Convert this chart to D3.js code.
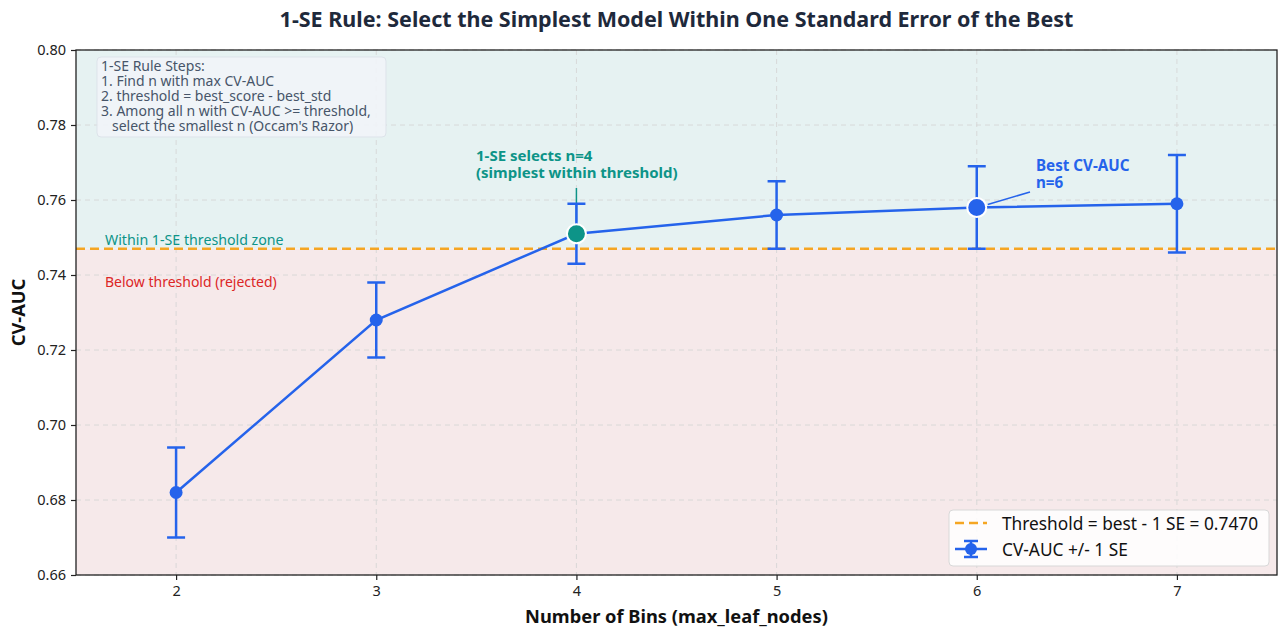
<!DOCTYPE html>
<html>
<head>
<meta charset="utf-8">
<script src="https://cdn.jsdelivr.net/npm/d3@7"></script>
<style>
  body { margin: 0; background: #fff; }
  svg { display: block; font-family: "Noto Sans", "Open Sans", sans-serif; }
</style>
</head>
<body>
<script>
const WIDTH = 1288;
const HEIGHT = 638;
const MARGIN = {top: 50, right: 11, bottom: 63, left: 76};

// data
const BINS = [2, 3, 4, 5, 6, 7];
const CV_AUC = [0.682, 0.728, 0.751, 0.756, 0.758, 0.759];
const CV_SE = [0.012, 0.010, 0.008, 0.009, 0.011, 0.013];
const Y_TICKS = [0.66, 0.68, 0.70, 0.72, 0.74, 0.76, 0.78, 0.80];
const SELECTED_N = 4;
const BEST_N = 6;
const THRESHOLD = 0.747;
const STEPS = ["1-SE Rule Steps:",
               "1. Find n with max CV-AUC",
               "2. threshold = best_score - best_std",
               "3. Among all n with CV-AUC >= threshold,",
               "   select the smallest n (Occam's Razor)"];

const BLUE = "#2563eb";
const TEAL = "#0d9488";
const RED = "#dc2626";
const ORANGE = "#f5a623";

const svg = d3.select("body")
              .append("svg")
              .attr("width", WIDTH)
              .attr("height", HEIGHT);

const x = d3.scaleLinear().domain([1.5, 7.5]).range([MARGIN.left, WIDTH - MARGIN.right]);
const y = d3.scaleLinear().domain([0.66, 0.80]).range([HEIGHT - MARGIN.bottom, MARGIN.top]);

const points = BINS.map((n, i) => ({n: n, auc: CV_AUC[i], se: CV_SE[i]}));

//zones
svg.append("rect")
   .attr("x", x(1.5)).attr("y", y(0.80))
   .attr("width", x(7.5) - x(1.5)).attr("height", y(THRESHOLD) - y(0.80))
   .attr("fill", "#e6f2f2");
svg.append("rect")
   .attr("x", x(1.5)).attr("y", y(THRESHOLD))
   .attr("width", x(7.5) - x(1.5)).attr("height", y(0.66) - y(THRESHOLD))
   .attr("fill", "#f6e9ea");

//grid
const grid = svg.append("g").attr("stroke", "#d6d6d6").attr("stroke-dasharray", "5,4").attr("stroke-width", 0.9);
grid.selectAll(".gx").data(BINS).enter().append("line")
    .attr("x1", d => x(d)).attr("x2", d => x(d))
    .attr("y1", y(0.80)).attr("y2", y(0.66));
grid.selectAll(".gy").data(Y_TICKS).enter().append("line")
    .attr("x1", x(1.5)).attr("x2", x(7.5))
    .attr("y1", d => y(d)).attr("y2", d => y(d));

//axes
const xAxis = d3.axisBottom(x).tickValues(BINS).tickFormat(d3.format("d")).tickSize(5).tickPadding(6);
const yAxis = d3.axisLeft(y).tickValues(Y_TICKS).tickFormat(d3.format(".2f")).tickSize(5).tickPadding(5);

const styleAxis = g => {
  g.select(".domain").remove();
  g.selectAll(".tick line").attr("stroke", "#222").attr("stroke-width", 1.2);
  g.selectAll(".tick text").attr("fill", "#222").attr("font-size", 14.5).attr("font-family", "Noto Sans");
};

svg.append("g")
   .attr("transform", "translate(0," + (HEIGHT - MARGIN.bottom) + ")")
   .call(xAxis).call(styleAxis);
svg.append("g")
   .attr("transform", "translate(" + MARGIN.left + ",0)")
   .call(yAxis).call(styleAxis);

//threshold
svg.append("line")
   .attr("x1", x(1.5)).attr("x2", x(7.5))
   .attr("y1", y(THRESHOLD)).attr("y2", y(THRESHOLD))
   .attr("stroke", ORANGE).attr("stroke-width", 2.5).attr("stroke-dasharray", "9,5");

svg.append("text").attr("x", 105).attr("y", y(THRESHOLD) - 4)
   .attr("fill", TEAL).attr("font-size", 14.2).text("Within 1-SE threshold zone");
svg.append("text").attr("x", 105).attr("y", y(THRESHOLD) + 38)
   .attr("fill", RED).attr("font-size", 14).text("Below threshold (rejected)");

//steps box
const box = svg.append("g");
box.append("rect")
   .attr("x", 97).attr("y", 57).attr("width", 289).attr("height", 80).attr("rx", 4)
   .attr("fill", "#f1f4f8").attr("fill-opacity", 0.9)
   .attr("stroke", "#dde3ea").attr("stroke-width", 1);
box.append("text")
   .attr("x", 101).attr("y", 71)
   .attr("fill", "#475569").attr("font-size", 14)
   .selectAll("tspan").data(STEPS).enter().append("tspan")
   .attr("x", 101).attr("dy", (d, i) => i === 0 ? 0 : 15)
   .attr("xml:space", "preserve")
   .text(d => d);

//annotation arrows (behind the markers)
svg.append("line")
   .attr("x1", x(SELECTED_N)).attr("x2", x(SELECTED_N))
   .attr("y1", 188).attr("y2", y(CV_AUC[BINS.indexOf(SELECTED_N)]) - 12)
   .attr("stroke", TEAL).attr("stroke-width", 1.5);
svg.append("line")
   .attr("x1", 1030).attr("y1", 192)
   .attr("x2", x(BEST_N) + 11).attr("y2", y(CV_AUC[BINS.indexOf(BEST_N)]) - 3)
   .attr("stroke", BLUE).attr("stroke-width", 1.5);

//line
const line = d3.line().x(d => x(d.n)).y(d => y(d.auc));
svg.append("path")
   .datum(points)
   .attr("d", line)
   .attr("fill", "none").attr("stroke", BLUE).attr("stroke-width", 2.5);

//error bars
const bars = svg.append("g").attr("stroke", BLUE).attr("stroke-width", 2.5);
bars.selectAll(".ev").data(points).enter().append("line")
    .attr("x1", d => x(d.n)).attr("x2", d => x(d.n))
    .attr("y1", d => y(d.auc + d.se)).attr("y2", d => y(d.auc - d.se));
bars.selectAll(".ct").data(points).enter().append("line")
    .attr("x1", d => x(d.n) - 9).attr("x2", d => x(d.n) + 9)
    .attr("y1", d => y(d.auc + d.se)).attr("y2", d => y(d.auc + d.se));
bars.selectAll(".cb").data(points).enter().append("line")
    .attr("x1", d => x(d.n) - 9).attr("x2", d => x(d.n) + 9)
    .attr("y1", d => y(d.auc - d.se)).attr("y2", d => y(d.auc - d.se));

//markers
svg.selectAll(".pt").data(points).enter().append("circle")
   .attr("cx", d => x(d.n)).attr("cy", d => y(d.auc))
   .attr("r", d => d.n === SELECTED_N || d.n === BEST_N ? 9.5 : 6.5)
   .attr("fill", d => d.n === SELECTED_N ? TEAL : BLUE)
   .attr("stroke", d => d.n === SELECTED_N || d.n === BEST_N ? "#fff" : "none")
   .attr("stroke-width", 2);

//annotation text
const selText = svg.append("text")
   .attr("x", 476).attr("y", 161)
   .attr("fill", TEAL).attr("font-size", 15).attr("font-weight", "bold");
selText.append("tspan").attr("x", 476).text("1-SE selects n=" + SELECTED_N);
selText.append("tspan").attr("x", 476).attr("dy", 17).text("(simplest within threshold)");

const bestText = svg.append("text")
   .attr("x", 1036).attr("y", 171)
   .attr("fill", BLUE).attr("font-size", 15.2).attr("font-weight", "bold");
bestText.append("tspan").attr("x", 1036).text("Best CV-AUC");
bestText.append("tspan").attr("x", 1036).attr("dy", 17).text("n=" + BEST_N);

//frame
svg.append("rect")
   .attr("x", x(1.5)).attr("y", y(0.80))
   .attr("width", x(7.5) - x(1.5)).attr("height", y(0.66) - y(0.80))
   .attr("fill", "none").attr("stroke", "#222").attr("stroke-width", 1.3);

//legend
const legend = svg.append("g").attr("transform", "translate(949,510)");
legend.append("rect")
      .attr("width", 320).attr("height", 56).attr("rx", 4)
      .attr("fill", "#fff").attr("fill-opacity", 0.85)
      .attr("stroke", "#d8d8d8");
legend.append("line")
      .attr("x1", 6).attr("x2", 38).attr("y1", 13).attr("y2", 13)
      .attr("stroke", ORANGE).attr("stroke-width", 2.5).attr("stroke-dasharray", "9,5");
legend.append("text").attr("x", 53).attr("y", 19.5)
      .attr("font-size", 17.3).attr("fill", "#111")
      .text("Threshold = best - 1 SE = " + THRESHOLD.toFixed(4));
const lg = legend.append("g").attr("transform", "translate(0,39)").attr("stroke", BLUE).attr("stroke-width", 2.5);
lg.append("line").attr("x1", 6).attr("x2", 38).attr("y1", 0).attr("y2", 0);
lg.append("line").attr("x1", 22).attr("x2", 22).attr("y1", -8).attr("y2", 8);
lg.append("line").attr("x1", 15).attr("x2", 29).attr("y1", -8).attr("y2", -8);
lg.append("line").attr("x1", 15).attr("x2", 29).attr("y1", 8).attr("y2", 8);
lg.append("circle").attr("cx", 22).attr("cy", 0).attr("r", 6).attr("fill", BLUE).attr("stroke", "none");
legend.append("text").attr("x", 53).attr("y", 45.5)
      .attr("font-size", 17.3).attr("fill", "#111")
      .text("CV-AUC +/- 1 SE");

//titles
svg.append("text")
   .attr("x", (MARGIN.left + WIDTH - MARGIN.right) / 2).attr("y", 27)
   .attr("text-anchor", "middle")
   .attr("font-size", 21.5).attr("font-weight", "bold").attr("fill", "#1e293b")
   .text("1-SE Rule: Select the Simplest Model Within One Standard Error of the Best");

svg.append("text")
   .attr("x", (MARGIN.left + WIDTH - MARGIN.right) / 2).attr("y", 623)
   .attr("text-anchor", "middle")
   .attr("font-size", 18.3).attr("font-weight", "bold").attr("fill", "#111")
   .text("Number of Bins (max_leaf_nodes)");

svg.append("text")
   .attr("transform", "translate(25," + ((MARGIN.top + HEIGHT - MARGIN.bottom) / 2) + ") rotate(-90)")
   .attr("text-anchor", "middle")
   .attr("font-size", 18.3).attr("font-weight", "bold").attr("fill", "#111")
   .text("CV-AUC");
</script>
</body>
</html>
